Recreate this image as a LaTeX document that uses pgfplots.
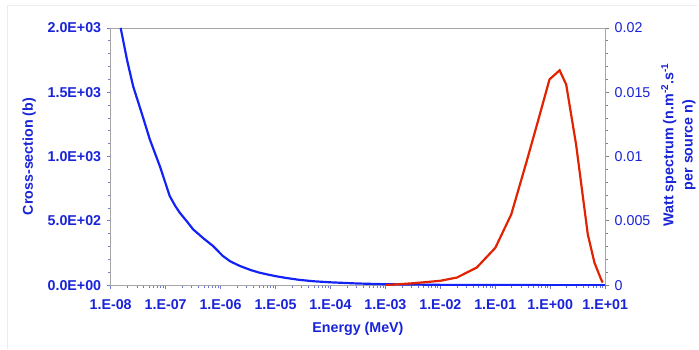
\documentclass[border=0pt]{standalone}
\usepackage{pgfplots}
\pgfplotsset{compat=1.18}
\usepackage{fontspec}
\setmainfont{Liberation Sans}
\definecolor{cblue}{RGB}{20,35,245}
\definecolor{cred}{RGB}{225,35,0}
\definecolor{tblue}{RGB}{25,35,215}
\definecolor{tickblue}{RGB}{110,120,215}
\newcommand{\fs}{\fontsize{14.3}{17}\selectfont}
\begin{document}
\begin{tikzpicture}[font=\fs]
\begin{axis}[
  scale only axis, width=496pt, height=258pt,
  xmode=log, xmin=1e-8, xmax=10, ymin=0, ymax=2000,
  axis line style={draw=gray!70, line width=0.8pt},
  xtick={1e-8,1e-7,1e-6,1e-5,1e-4,1e-3,1e-2,1e-1,1,10},
  xticklabels={1.E-08,1.E-07,1.E-06,1.E-05,1.E-04,1.E-03,1.E-02,1.E-01,1.E+00,1.E+01},
  minor xtick={2e-8,3e-8,4e-8,5e-8,6e-8,7e-8,8e-8,9e-8,
    2e-7,3e-7,4e-7,5e-7,6e-7,7e-7,8e-7,9e-7,
    2e-6,3e-6,4e-6,5e-6,6e-6,7e-6,8e-6,9e-6,
    2e-5,3e-5,4e-5,5e-5,6e-5,7e-5,8e-5,9e-5,
    2e-4,3e-4,4e-4,5e-4,6e-4,7e-4,8e-4,9e-4,
    2e-3,3e-3,4e-3,5e-3,6e-3,7e-3,8e-3,9e-3,
    2e-2,3e-2,4e-2,5e-2,6e-2,7e-2,8e-2,9e-2,
    2e-1,3e-1,4e-1,5e-1,6e-1,7e-1,8e-1,9e-1,
    2,3,4,5,6,7,8,9},
  ytick={0,500,1000,1500,2000},
  yticklabels={0.0E+00,5.0E+02,1.0E+03,1.5E+03,2.0E+03},
  minor y tick num=4,
  ytick pos=left, xtick pos=bottom,
  tick align=outside,
  major tick length=4pt, minor tick length=2.5pt,
  every tick/.style={draw=tickblue, line width=0.7pt},
  ticklabel style={text=tblue, font=\fs\bfseries},
  xticklabel style={yshift=-7pt},
  yticklabel style={xshift=-2pt},
  xlabel={Energy (MeV)}, ylabel={Cross-section (b)},
  label style={text=tblue, font=\fs\bfseries},
  xlabel style={at={(axis description cs:0.5,-0.17)}, anchor=center},
  ylabel style={at={(axis description cs:-0.165,0.5)}, anchor=center},
]
\addplot[cblue, line width=2.2pt] coordinates {
  (1.52e-8,2000) (2e-8,1745) (2.57e-8,1545) (3.66e-8,1339) (5.17e-8,1132)
  (7.85e-8,925) (1.19e-7,692) (1.5e-7,615) (1.81e-7,563) (2.5e-7,490)
  (3.16e-7,434) (5e-7,360) (7.27e-7,305) (1.1e-6,227) (1.5e-6,185)
  (2.22e-6,150) (3.5e-6,118) (5e-6,98) (6.78e-6,85) (1e-5,70) (1.5e-5,57)
  (2.73e-5,41) (5e-5,30) (1e-4,22) (3e-4,13) (1e-3,7)
  (1e-2,2.3) (1e-1,0.7) (1,0.3) (10,0.1)
};
\coordinate (BL) at (rel axis cs:-0.2238,-0.2481);
\coordinate (TR) at (rel axis cs:1.1855,1.1085);
\coordinate (G1) at (rel axis cs:-0.2097,-0.2481);
\coordinate (G2) at (rel axis cs:-0.2097,1.0891);
\coordinate (G3) at (rel axis cs:1.1855,1.0891);
\end{axis}
\begin{axis}[
  scale only axis, width=496pt, height=258pt,
  xmode=log, xmin=1e-8, xmax=10, ymin=0, ymax=0.02,
  axis x line=none, axis y line*=right,
  axis line style={draw=gray!70, line width=0.8pt},
  scaled y ticks=false,
  ytick={0,0.005,0.01,0.015,0.02},
  yticklabels={0,0.005,0.01,0.015,0.02},
  minor y tick num=4,
  tick align=outside,
  major tick length=4pt, minor tick length=2.5pt,
  every tick/.style={draw=gray, line width=0.7pt},
  yticklabel style={text=tblue, font=\fs, xshift=2pt},
  ylabel={Watt spectrum (n.m\textsuperscript{-2}.s\textsuperscript{-1}\\per source n)},
  ylabel style={at={(axis description cs:1.148,0.545)}, anchor=center, align=center, text=tblue, font=\fontsize{14.3}{19.5}\selectfont\bfseries},
]
\addplot[cred, line width=2.2pt] coordinates {
  (1e-3,0) (3.27e-3,0.00015) (1e-2,0.00034) (2e-2,0.00059) (4.6e-2,0.00137)
  (0.1,0.0029) (0.195,0.0055) (0.365,0.0095) (0.593,0.0127) (0.97,0.016)
  (1.48,0.0167) (1.95,0.0156) (2.96,0.0109) (4.82,0.00395) (6.37,0.00175)
  (8.4,0.00046) (9.0,0.0002)
};
\end{axis}
\path (BL) rectangle (TR);
\draw[gray!15, line width=0.8pt] (G1) -- (G2) -- (G3);
\end{tikzpicture}
\end{document}
